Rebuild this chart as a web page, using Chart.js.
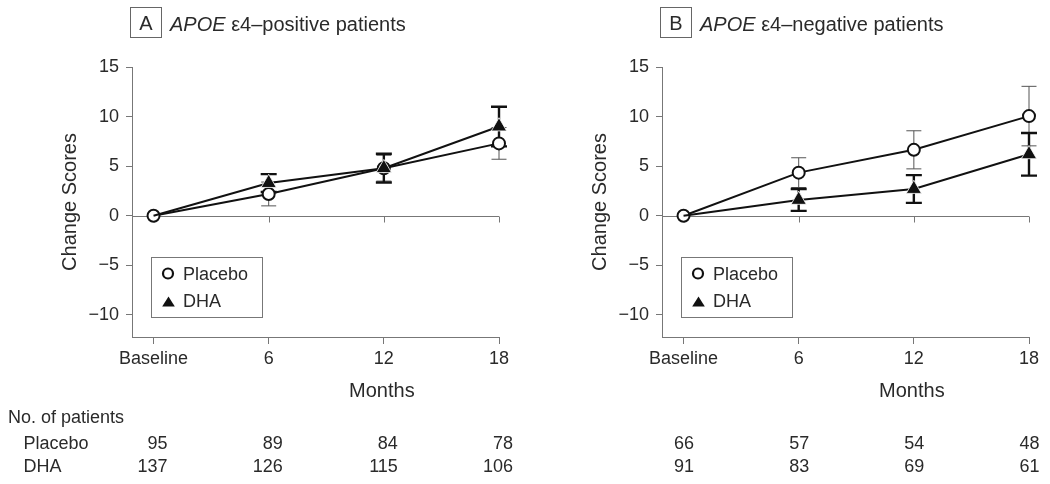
<!DOCTYPE html>
<html><head><meta charset="utf-8">
<script src="https://cdn.jsdelivr.net/npm/chart.js@4.4.1/dist/chart.umd.min.js"></script>
<style>
html,body{margin:0;padding:0;background:#fff;width:1050px;height:484px;overflow:hidden}
.panel{position:absolute;top:0;height:484px}
#p1{left:0;width:525px}
#p2{left:530px;width:520px}
</style></head><body>
<div class="panel" id="p1"><canvas id="c1" width="525" height="484"></canvas></div>
<div class="panel" id="p2"><canvas id="c2" width="520" height="484"></canvas></div>
<script>
// ---- data ----
const months = ['Baseline', '6', '12', '18'];
const yTicks = [-10, -5, 0, 5, 10, 15];
// Panel A: APOE e4-positive
const posPlacebo = [0, 2.2, 4.8, 7.3];
const posPlaceboErr = [0, 1.2, 1.3, 1.6];
const posDHA = [0, 3.3, 4.8, 9.0];
const posDHAErr = [0, 0.9, 1.45, 2.0];
const posNPlacebo = [95, 89, 84, 78];
const posNDHA = [137, 126, 115, 106];
// Panel B: APOE e4-negative
const negPlacebo = [0, 4.35, 6.65, 10.05];
const negPlaceboErr = [0, 1.5, 1.92, 3.0];
const negDHA = [0, 1.6, 2.7, 6.2];
const negDHAErr = [0, 1.1, 1.4, 2.15];
const negNPlacebo = [66, 57, 54, 48];
const negNDHA = [91, 83, 69, 61];

const FONT = '"Liberation Sans", Arial, Helvetica, sans-serif';
const TXT = '#2a2a2a';
const AX = '#777';

function makeChart(id, W, o) {
  const panelPlugin = {
    id: 'panel_' + id,
    beforeDatasetsDraw(chart) {
      const ctx = chart.ctx, xs = chart.scales.x, ys = chart.scales.y;
      ctx.save();
      // zero reference line with ticks
      const y0 = Math.round(ys.getPixelForValue(0)) + 0.5;
      ctx.strokeStyle = AX; ctx.lineWidth = 1;
      ctx.beginPath();
      ctx.moveTo(chart.chartArea.left, y0);
      ctx.lineTo(xs.getPixelForValue(3), y0);
      for (let i = 0; i < months.length; i++) {
        const x = Math.round(xs.getPixelForValue(i)) + 0.5;
        ctx.moveTo(x, y0); ctx.lineTo(x, y0 + 6);
      }
      ctx.stroke();
      // error bars
      const drawErr = (vals, errs, lw, color, cap) => {
        ctx.strokeStyle = color; ctx.lineWidth = lw;
        for (let i = 0; i < vals.length; i++) {
          if (!errs[i]) continue;
          const x = xs.getPixelForValue(i);
          const yt = ys.getPixelForValue(vals[i] + errs[i]);
          const yb = ys.getPixelForValue(vals[i] - errs[i]);
          ctx.beginPath();
          ctx.moveTo(x, yt); ctx.lineTo(x, yb);
          ctx.moveTo(x - cap, yt); ctx.lineTo(x + cap, yt);
          ctx.moveTo(x - cap, yb); ctx.lineTo(x + cap, yb);
          ctx.stroke();
        }
      };
      drawErr(o.placebo, o.placeboErr, 1, '#555', 7.5);
      drawErr(o.dha, o.dhaErr, 2.4, '#111', 8);
      ctx.restore();
    },
    afterDraw(chart) {
      const ctx = chart.ctx, xs = chart.scales.x, ca = chart.chartArea;
      ctx.save();
      // title box + title
      ctx.strokeStyle = '#666'; ctx.lineWidth = 1;
      ctx.strokeRect(130.5, 7.5, 31, 30);
      ctx.fillStyle = TXT;
      ctx.font = '20px ' + FONT;
      ctx.textAlign = 'center'; ctx.textBaseline = 'alphabetic';
      ctx.fillText(o.letter, 146, 30);
      ctx.textAlign = 'left';
      ctx.font = 'italic 20px ' + FONT;
      ctx.fillText('APOE', 170, 31);
      const w = ctx.measureText('APOE').width;
      ctx.font = '20px ' + FONT;
      ctx.fillText(' ' + o.titleRest, 170 + w, 31);
      // legend
      const lx = ca.left + 19.5;
      ctx.strokeStyle = AX; ctx.lineWidth = 1;
      ctx.strokeRect(lx, 257.5, 111, 60);
      ctx.strokeStyle = '#111'; ctx.lineWidth = 2.2;
      ctx.beginPath(); ctx.arc(lx + 16.5, 273.5, 5, 0, Math.PI * 2); ctx.stroke();
      ctx.fillStyle = '#111';
      ctx.beginPath();
      ctx.moveTo(lx + 17, 296.5); ctx.lineTo(lx + 10.7, 306.5); ctx.lineTo(lx + 23.3, 306.5);
      ctx.closePath(); ctx.fill();
      ctx.fillStyle = TXT;
      ctx.font = '18px ' + FONT;
      ctx.fillText('Placebo', lx + 31.5, 280);
      ctx.fillText('DHA', lx + 31.5, 306.7);
      // x axis title
      ctx.font = '20px ' + FONT;
      ctx.textAlign = 'center';
      ctx.fillText('Months', xs.getPixelForValue(2) - 2, 397);
      // patient table
      ctx.font = '18px ' + FONT;
      if (o.rowLabels) {
        ctx.textAlign = 'left';
        ctx.fillText('No. of patients', 8, 423);
        ctx.fillText('Placebo', 23.5, 449);
        ctx.fillText('DHA', 23.5, 472);
      }
      ctx.textAlign = 'right';
      for (let i = 0; i < months.length; i++) {
        const x = xs.getPixelForValue(i) + o.numOffset;
        ctx.fillText(String(o.nPlacebo[i]), x, 449);
        ctx.fillText(String(o.nDHA[i]), x, 472);
      }
      ctx.restore();
    }
  };

  return new Chart(document.getElementById(id), {
    type: 'line',
    data: {
      datasets: [
        {
          label: 'DHA',
          data: o.dha.map((v, i) => ({ x: i, y: v })),
          borderColor: '#111', borderWidth: 2, clip: false,
          pointStyle: 'triangle',
          pointRadius: o.dha.map((v, i) => i === 0 ? 0 : 8.8),
          pointBackgroundColor: '#111', pointBorderColor: '#fff', pointBorderWidth: 0.8,
          order: 0
        },
        {
          label: 'Placebo',
          data: o.placebo.map((v, i) => ({ x: i, y: v })),
          borderColor: '#111', borderWidth: 2, clip: false,
          pointStyle: 'circle', pointRadius: 6,
          pointBackgroundColor: '#fff', pointBorderColor: '#111', pointBorderWidth: 2,
          order: 1
        }
      ]
    },
    options: {
      responsive: false,
      animation: false,
      devicePixelRatio: 1,
      layout: { padding: { left: 0, top: 67, right: W - 499, bottom: 79 } },
      plugins: { legend: { display: false }, tooltip: { enabled: false }, title: { display: false } },
      scales: {
        x: {
          type: 'linear', min: -0.187, max: 3,
          afterBuildTicks: s => { s.ticks = months.map((m, i) => ({ value: i })); },
          afterFit: s => { s.height = 68; },
          ticks: {
            callback: v => months[v], autoSkip: false, maxRotation: 0,
            font: { size: 18, family: FONT }, color: TXT, padding: 4
          },
          grid: { display: true, drawOnChartArea: false, drawTicks: true, tickLength: 7, color: AX, lineWidth: 1 },
          border: { display: true, color: AX, width: 1 }
        },
        y: {
          min: -12.22, max: 15,
          afterBuildTicks: s => { s.ticks = yTicks.map(v => ({ value: v })); },
          afterFit: s => { s.width = 132; },
          ticks: {
            callback: v => v < 0 ? '\u2212' + Math.abs(v) : String(v),
            font: { size: 18, family: FONT }, color: TXT, padding: 7
          },
          grid: { display: true, drawOnChartArea: false, drawTicks: true, tickLength: 6, color: AX, lineWidth: 1 },
          border: { display: true, color: AX, width: 1 },
          title: { display: true, text: 'Change Scores', font: { size: 20, family: FONT }, color: TXT, padding: { top: 58, bottom: 0 } }
        }
      }
    },
    plugins: [panelPlugin]
  });
}

makeChart('c1', 525, {
  letter: 'A', titleRest: '\u03b54\u2013positive patients',
  placebo: posPlacebo, placeboErr: posPlaceboErr, dha: posDHA, dhaErr: posDHAErr,
  nPlacebo: posNPlacebo, nDHA: posNDHA, rowLabels: true, numOffset: 14
});
makeChart('c2', 520, {
  letter: 'B', titleRest: '\u03b54\u2013negative patients',
  placebo: negPlacebo, placeboErr: negPlaceboErr, dha: negDHA, dhaErr: negDHAErr,
  nPlacebo: negNPlacebo, nDHA: negNDHA, rowLabels: false, numOffset: 10.5
});
</script>
</body></html>
